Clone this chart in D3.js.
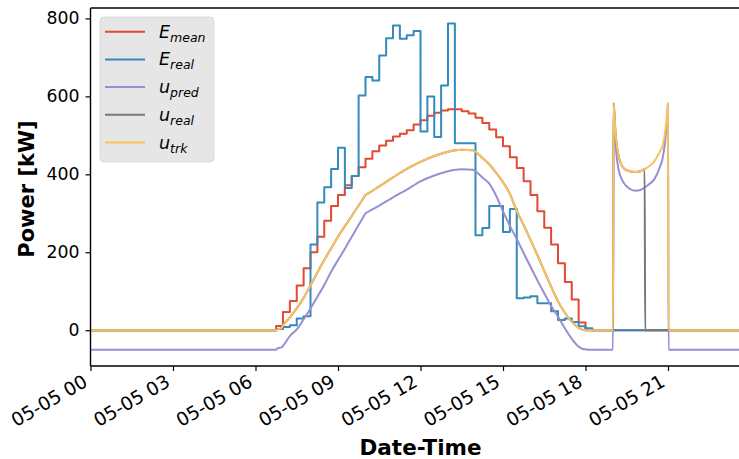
<!DOCTYPE html>
<html>
<head>
<meta charset="utf-8">
<script src="https://cdn.jsdelivr.net/npm/d3@7/dist/d3.min.js"></script>
<style>
  html, body { margin: 0; padding: 0; background: #fff; }
  svg { display: block; font-family: "DejaVu Sans", sans-serif; }
</style>
</head>
<body>
<svg id="chart" width="739" height="459"></svg>
<script>
// ---------- DATA ----------
// Quarter-hour step series (96 values, 05-05 00:00 .. 23:45)
const Emean = [
  0,0,0,0,0,0,0,0,0,0,0,0,0,0,0,0,0,0,0,0,0,0,0,0,0,0,0,
  11,47,75,115,159,200,240,281,319,347,372,396,418,440,459,474,486,497,
  504,513,528,539,550,558,564,567,567,562,556,545,532,515,495,472,444,416,382,
  347,305,263,220,172,124,79,20,
  0,0,0,0,0,0,0,0,0,0,0,0,0,0,0,0,0,0,0,0,0,0,0,0
];
const Ereal = [
  0,0,0,0,0,0,0,0,0,0,0,0,0,0,0,0,0,0,0,0,0,0,0,0,0,0,0,
  3,8,13,30,36,220,328,367,414,468,365,396,602,650,641,705,749,782,
  748,757,768,510,600,496,628,787,480,480,480,244,262,319,319,252,311,82,84,
  87,69,69,49,26,30,21,10,5,
  0,0,0,0,0,0,0,0,0,0,0,0,0,0,0,0,0,0,0,0,0,0,0
];
// Sampled times (hours of 05-05) for the smooth u-series
const uTimes = [0,6.75,6.8,6.95,7.0,7.25,7.5,7.75,8.0,8.25,8.5,8.75,9.0,9.25,9.5,9.75,9.9,10.0,10.1,
  10.5,11.0,11.5,12.0,12.5,13.0,13.5,13.9,14.0,14.25,14.5,14.75,15.0,15.25,15.5,15.75,
  16.0,16.25,16.5,16.75,17.0,17.25,17.5,17.75,17.9,18.0,18.1,19.0,19.02,19.1,19.2,19.3,
  19.4,19.6,19.8,20.0,20.15,20.17,20.3,20.5,20.7,20.8,20.9,20.97,21.0,21.02,24.0];
const uPred = [-50,-50,-46,-44,-40,-15,2,28,56,86,116,150,180,209,240,270,288,300,304,
  320,341,361,382,397,408,413,412,408,392,376,345,305,268,234,198,
  163,128,95,62,35,5,-22,-42,-48,-49,-50,-50,583,470,413,390,
  377,363,358,360,366,367,374,387,418,440,488,545,583,-50,-50];
const uTrk = [0,0,2,6,12,33,56,83,115,148,180,210,240,267,293,320,336,347,351,
  369,392,414,432,447,458,463,462,458,442,426,404,380,350,306,270,
  232,193,152,112,74,45,22,6,1,0,0,0,583,498,448,425,
  415,408,406,408,413,414,420,433,458,472,510,560,583,0,0];
const uReal = [0,0,2,6,12,33,56,83,115,148,180,210,240,267,293,320,336,347,351,
  369,392,414,432,447,458,463,462,458,442,426,404,380,350,306,270,
  232,193,152,112,74,45,22,6,1,0,0,0,583,498,448,425,
  415,408,406,408,413,0,0,0,0,0,0,0,0,0,0];

const yTicks = [0, 200, 400, 600, 800];
const xTickHours = [0, 3, 6, 9, 12, 15, 18, 21];

const seriesNames = ["mean", "real", "pred", "real", "trk"];
const seriesBase = ["E", "E", "u", "u", "u"];
const colors = ["#E24A33", "#348ABD", "#988ED5", "#777777", "#FBC15E"];

// ---------- SETUP ----------
const day0 = Date.UTC(2021, 4, 5, 0, 0);
const hourToDate = h => new Date(day0 + h * 3600 * 1000);

const svg = d3.select("#chart");
const plot = { left: 90.5, right: 750.5, top: 8, bottom: 366 };
const yTickFont = 17.3;
const xTickFont = 18.7;

const x = d3.scaleUtc()
  .domain([hourToDate(0), hourToDate(24)])
  .range([plot.left, plot.right]);
const y = d3.scaleLinear()
  .domain([-91.75, 826.75])
  .range([plot.bottom, plot.top]);

svg.append("defs").append("clipPath").attr("id", "clip")
  .append("rect")
  .attr("x", plot.left).attr("y", plot.top)
  .attr("width", plot.right - plot.left).attr("height", plot.bottom - plot.top);

const g = svg.append("g").attr("clip-path", "url(#clip)");

const qData = arr => arr.map((v, i) => ({ t: hourToDate(i * 0.25), v }));
const uData = arr => arr.map((v, i) => ({ t: hourToDate(uTimes[i]), v }));

const stepLine = d3.line().x(d => x(d.t)).y(d => y(d.v)).curve(d3.curveStepAfter);
const smoothLine = d3.line().x(d => x(d.t)).y(d => y(d.v)).curve(d3.curveMonotoneX);

const allSeries = [
  { data: qData(Emean), gen: stepLine },
  { data: qData(Ereal), gen: stepLine },
  { data: uData(uPred), gen: smoothLine },
  { data: uData(uReal), gen: smoothLine },
  { data: uData(uTrk), gen: smoothLine }
];

allSeries.forEach((s, i) => {
  g.append("path")
    .datum(s.data)
    .attr("d", s.gen)
    .attr("fill", "none")
    .attr("stroke", colors[i])
    .attr("stroke-width", 2)
    .attr("stroke-linejoin", "round");
});

// ---------- AXES ----------
const yAxis = d3.axisLeft(y).tickValues(yTicks).tickSize(5).tickPadding(6).tickFormat(d3.format("d"));
const yG = svg.append("g").attr("transform", `translate(${plot.left},0)`).call(yAxis);
yG.select(".domain").remove();
yG.selectAll("line").attr("stroke", "#000").attr("stroke-width", 1.2);
yG.selectAll("text").attr("font-size", yTickFont).attr("fill", "#000")
  .attr("font-family", "DejaVu Sans");

const xAxis = d3.axisBottom(x)
  .tickValues(xTickHours.map(hourToDate))
  .tickSize(5).tickPadding(0)
  .tickFormat(d3.utcFormat("%m-%d %H"));
const xG = svg.append("g").attr("transform", `translate(0,${plot.bottom})`).call(xAxis);
xG.select(".domain").remove();
xG.selectAll("line").attr("stroke", "#000").attr("stroke-width", 1.2);
// matplotlib-like placement: rotated 30deg, right/top aligned bounding box
const hRect = 0.99 * xTickFont, dRect = 0.23 * xTickFont;
const tx = -0.5 * dRect;
const ty = 5 + 2 + 0.866 * (hRect - dRect);
xG.selectAll("text")
  .attr("font-size", xTickFont).attr("fill", "#000")
  .attr("font-family", "DejaVu Sans")
  .attr("text-anchor", "end")
  .attr("dy", null)
  .attr("y", 0)
  .attr("transform", `translate(${tx},${ty}) rotate(-30)`);

// spines (left, top, bottom)
const spine = svg.append("g").attr("stroke", "#000").attr("stroke-width", 1.4).attr("fill", "none");
spine.append("line").attr("x1", plot.left).attr("x2", plot.left).attr("y1", plot.top).attr("y2", plot.bottom);
spine.append("line").attr("x1", plot.left).attr("x2", 739).attr("y1", plot.top).attr("y2", plot.top);
spine.append("line").attr("x1", plot.left).attr("x2", 739).attr("y1", plot.bottom).attr("y2", plot.bottom);

// axis labels
svg.append("text")
  .attr("x", (plot.left + plot.right) / 2).attr("y", 455)
  .attr("text-anchor", "middle").attr("font-weight", "bold").attr("font-size", 21.5)
  .attr("font-family", "DejaVu Sans")
  .text("Date-Time");
svg.append("text")
  .attr("transform", `translate(34,${(plot.top + plot.bottom) / 2 + 2}) rotate(-90)`)
  .attr("text-anchor", "middle").attr("font-weight", "bold").attr("font-size", 21)
  .attr("font-family", "DejaVu Sans")
  .text("Power [kW]");

// ---------- LEGEND ----------
const lg = svg.append("g");
lg.append("rect")
  .attr("x", 100).attr("y", 17).attr("width", 114).attr("height", 145)
  .attr("rx", 4).attr("ry", 4)
  .attr("fill", "#E6E6E6").attr("stroke", "#D4D4D4").attr("stroke-width", 0.8);
seriesNames.forEach((name, i) => {
  const yy = 31.7 + i * 27.7;
  lg.append("line")
    .attr("x1", 105).attr("x2", 145).attr("y1", yy).attr("y2", yy)
    .attr("stroke", colors[i]).attr("stroke-width", 2);
  const t = lg.append("text")
    .attr("x", 159).attr("y", yy + 6)
    .attr("font-family", "DejaVu Sans").attr("font-style", "italic").attr("fill", "#000");
  t.append("tspan").attr("font-size", 17.5).text(seriesBase[i]);
  t.append("tspan").attr("font-size", 12.5).attr("dy", 4).text(name);
});
</script>
</body>
</html>
